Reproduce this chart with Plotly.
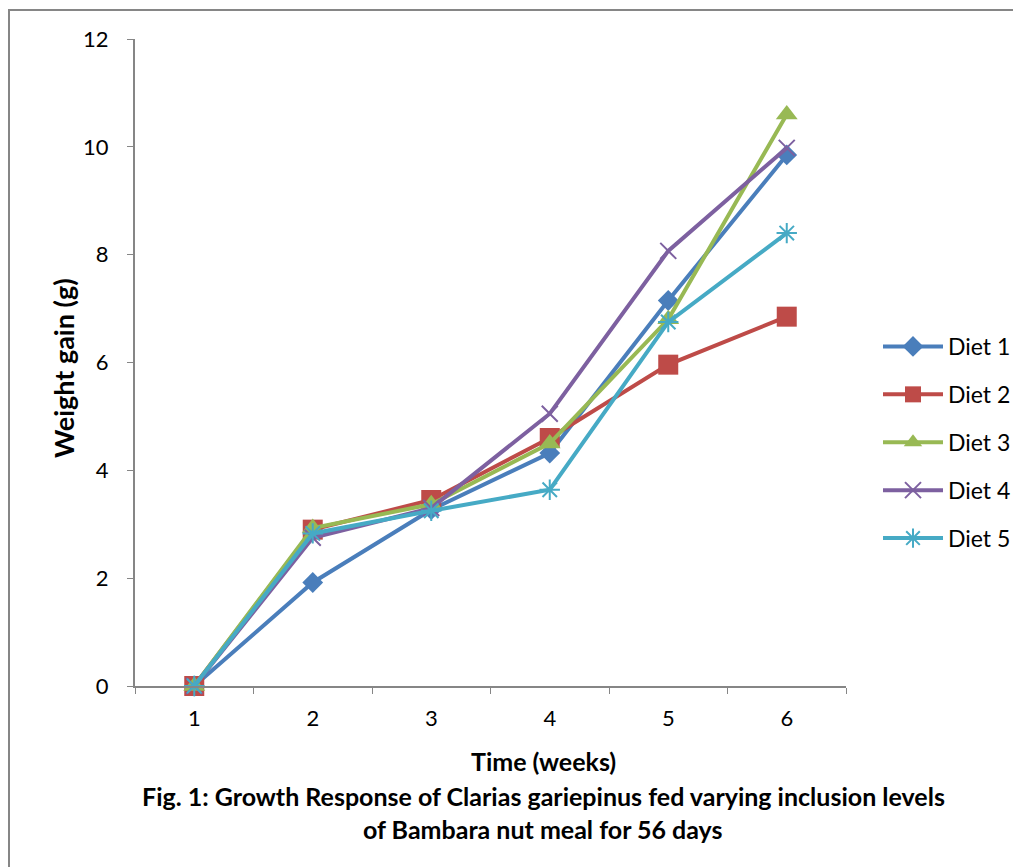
import plotly.graph_objects as go

weeks = ["1", "2", "3", "4", "5", "6"]
diet1 = [0, 1.92, 3.27, 4.32, 7.15, 9.85]
diet2 = [0, 2.90, 3.45, 4.60, 5.96, 6.85]
diet3 = [0, 2.93, 3.37, 4.50, 6.80, 10.60]
diet4 = [0, 2.75, 3.30, 5.05, 8.07, 9.98]
diet5 = [0, 2.83, 3.25, 3.64, 6.75, 8.40]
names = ["Diet 1", "Diet 2", "Diet 3", "Diet 4", "Diet 5"]

series = [diet1, diet2, diet3, diet4, diet5]
colors = ["#4A7EBB", "#BE4B48", "#98B954", "#7D60A0", "#46AAC5"]
symbols = ["diamond", "square", "triangle-up", "x-thin-open", "asterisk-open"]
sizes = [16, 20, 19, 16, 17]

FONT = "Lato, 'Liberation Sans', sans-serif"

fig = go.Figure()
for i, (n, s) in enumerate(zip(names, series)):
    open_sym = symbols[i].endswith("open")
    fig.add_trace(go.Scatter(
        x=weeks, y=s, name=n, mode="lines+markers",
        legendgroup=n, cliponaxis=False,
        line=dict(color=colors[i], width=4),
        marker=dict(symbol=symbols[i], size=sizes[i], color=colors[i],
                    line=dict(color=colors[i], width=2 if open_sym else 0)),
    ))

def px(X):
    return (X - 135) / 711

def py(Y):
    return (686 - Y) / 647

fig.update_layout(
    width=1021, height=867,
    paper_bgcolor="white", plot_bgcolor="white",
    margin=dict(l=127, r=183, t=31, b=189),
    font=dict(family=FONT, color="black", size=22),
    showlegend=True,
    legend=dict(x=px(878), y=py(325), xanchor="left", yanchor="top",
                font=dict(size=23, family=FONT), tracegroupgap=15,
                traceorder="grouped", itemwidth=60, bgcolor="rgba(0,0,0,0)"),
    xaxis=dict(type="category", range=[-0.5, 5.5], tickson="boundaries", ticks="outside",
               ticklen=6, tickcolor="#868686", showline=True, linecolor="#868686",
               linewidth=2, showgrid=False, zeroline=False, ticklabelstandoff=12,
               tickfont=dict(size=22, family=FONT)),
    yaxis=dict(range=[0, 12], dtick=2, ticks="outside", ticklen=6, tickcolor="#868686",
               showline=True, linecolor="#868686", linewidth=2, showgrid=False,
               zeroline=False, ticklabelstandoff=14, tickfont=dict(size=22, family=FONT)),
    shapes=[dict(type="rect", xref="paper", yref="paper", x0=px(9), x1=1.4,
                 y0=-0.5, y1=py(10), line=dict(color="#868686", width=2))],
    annotations=[
        dict(text="<b>Weight gain (g)</b>", xref="paper", yref="paper",
             x=px(63), y=py(368), textangle=-90, showarrow=False,
             font=dict(size=27, family=FONT), xanchor="center", yanchor="middle"),
        dict(text="<b>Time (weeks)</b>", xref="paper", yref="paper",
             x=px(543), y=py(761), showarrow=False,
             font=dict(size=25, family=FONT), xanchor="center", yanchor="middle"),
        dict(text="<b>Fig. 1: Growth Response of Clarias gariepinus fed varying inclusion levels</b>",
             xref="paper", yref="paper", x=px(543), y=py(796),
             showarrow=False, font=dict(size=25, family=FONT), xanchor="center", yanchor="middle"),
        dict(text="<b>of Bambara nut meal for 56 days</b>",
             xref="paper", yref="paper", x=px(543), y=py(829),
             showarrow=False, font=dict(size=25, family=FONT), xanchor="center", yanchor="middle"),
    ],
)

fig.write_html("out.html")
